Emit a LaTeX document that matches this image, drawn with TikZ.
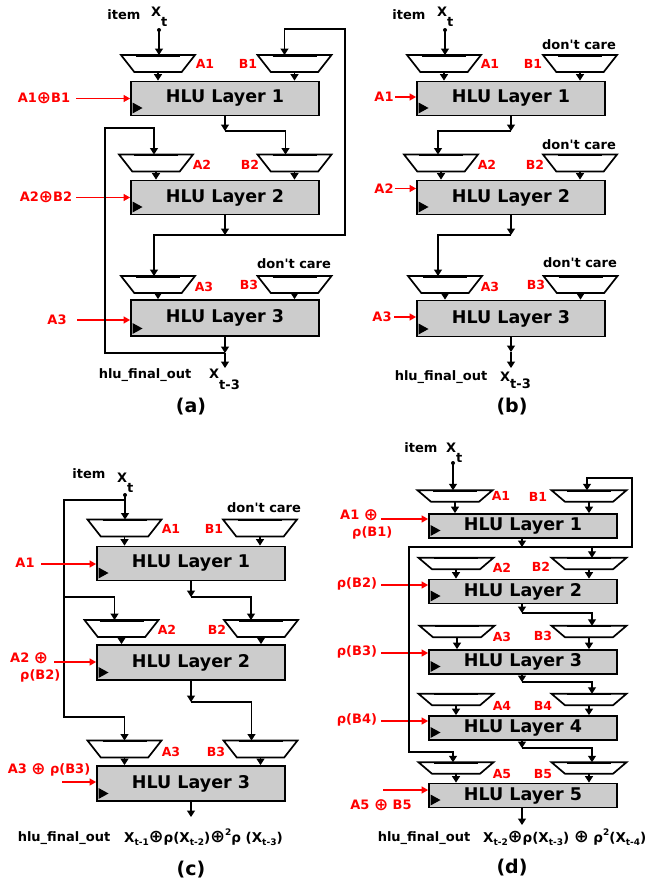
\documentclass[tikz,border=0pt]{standalone}
\usepackage{fontspec}
\setmainfont{DejaVu Sans}
\usepackage{tikz}
\usetikzlibrary{arrows.meta,calc}

% subscripts set below the baseline
\newcommand\lowr[2][10pt]{\raisebox{-#1}{#2}}
\newcommand\ssub[1]{\raisebox{-3pt}{\fontsize{9}{10}\selectfont #1}}
\newcommand\ssup[1]{\raisebox{7pt}{\fontsize{9}{10}\selectfont #1}}
\newcommand\opl{\raisebox{-0.6pt}{\scalebox{1.3}{⊕}}}
\newcommand\dontcare{don\textquotesingle t care}

\begin{document}
\begin{tikzpicture}[x=1pt,y=-1pt,
  hlu/.style={rectangle,draw=black,line width=1.8pt,fill=gray!40,minimum width=188pt,
              minimum height=34pt,inner sep=0pt,font=\fontsize{17.5}{20}\selectfont\bfseries,
              path picture={\fill[black] ([shift={(1.5pt,2pt)}]path picture bounding box.south west)
                 -- ++(0pt,11pt) -- ++(10pt,-5.5pt) -- cycle;}},
  shlu/.style={hlu,minimum height=24pt},
  mux/.style={rectangle,minimum width=74pt,minimum height=17pt,inner sep=0pt,outer sep=0pt},
  smux/.style={mux,minimum width=75pt,minimum height=11.5pt},
  muxline/.style={draw=black,fill=white,line width=1.7pt,line join=miter},
  txt/.style={font=\fontsize{13}{15}\selectfont\bfseries,inner sep=0pt},
  lab/.style={font=\fontsize{13}{17}\selectfont\bfseries,text=red,inner sep=0pt},
  mlab/.style={lab,font=\fontsize{12.5}{15}\selectfont\bfseries},
  figcap/.style={font=\fontsize{19}{22}\selectfont\bfseries,inner sep=0pt},
  arr/.style={-{Triangle[length=6.5pt,width=8pt]},line width=1.4pt},
  redarr/.style={-{Triangle[length=6.5pt,width=7pt]},red,line width=1.3pt},
  wire/.style={line width=1.4pt}
]
\useasboundingbox (0,0) rectangle (662,886);

% ---------------- (a) ----------------
\node[txt] (itemA) at (124,15) {item};
\node[txt,anchor=base west] (xtA) at (151,16.5) {X\lowr{t}};
\coordinate (dotA) at (159,30);
\node[mux] (mA1a) at (158,63.5) {};
\node[mux] (mB1a) at (294.5,63.5) {};
\node[mlab] (a1a) at (205,64) {A1};
\node[mlab] (b1a) at (248,64) {B1};
\node[hlu] (L1a) at (225,98.5) {HLU Layer 1};
\node[lab] (rA1a) at (44,98) {A1\opl B1};
\node[mux] (mA2a) at (156,163) {};
\node[mux] (mB2a) at (294.5,163) {};
\node[mlab] (a2a) at (202,165) {A2};
\node[mlab] (b2a) at (250,165) {B2};
\node[hlu] (L2a) at (225,197.5) {HLU Layer 2};
\node[lab] (rA2a) at (46,197) {A2\opl B2};
\node[txt] (dcA) at (294,264) {\dontcare};
\node[mux] (mA3a) at (158,284.5) {};
\node[mux] (mB3a) at (294.5,284.5) {};
\node[mlab] (a3a) at (204,287) {A3};
\node[mlab] (b3a) at (249,285) {B3};
\node[hlu,minimum height=36pt] (L3a) at (225,318) {HLU Layer 3};
\node[lab] (rA3a) at (57,320) {A3};
\node[txt] (hfoA) at (145,375) {hlu\_final\_out};
\node[txt,anchor=base west] (xoA) at (209,378) {X\lowr[11pt]{t-3}};
\node[figcap] (capA) at (191,407) {(a)};

\coordinate (sA1a) at (76,98.5);
\coordinate (sA2a) at (76,197.5);
\coordinate (sA3a) at (77,320);
\coordinate (jA1) at (225,131);
\coordinate (jA2) at (225,235);
\coordinate (jA3) at (225,353);
\coordinate (outA) at (225,368);
\coordinate (rtA) at (345,29);
\coordinate (lfA) at (105,128);

\fill (dotA) circle (2pt);
\draw[arr] (dotA) -- (dotA |- mA1a.north);
\draw[redarr] (sA1a) -- (sA1a -| L1a.west);
\draw[redarr] (sA2a) -- (sA2a -| L2a.west);
\draw[redarr] (sA3a) -- (sA3a -| L3a.west);
\draw[arr] (L1a.south) -- (jA1);
\draw[arr] (jA1) -| ($(mB2a.north)+(-9,0)$);
\draw[arr] (L2a.south) -- (jA2);
\draw[arr] (jA2) -| ($(mA3a.north)+(-4,0)$);
\draw[arr] (jA2) -| (rtA) -| ($(mB1a.north)+(-10,0)$);
\draw[arr] (L3a.south) -- (jA3);
\draw[arr] (jA3) -- (outA);
\draw[arr] (jA3) -| (lfA) -| ($(mA2a.north)+(-2,0)$);

% ---------------- (b) ----------------
\node[txt] (itemB) at (409,15) {item};
\node[txt,anchor=base west] (xtB) at (437,16.5) {X\lowr{t}};
\coordinate (dotB) at (445,30);
\node[txt] (dcB1) at (579,45) {\dontcare};
\node[mux] (mA1b) at (444,63.5) {};
\node[mux] (mB1b) at (580,63.5) {};
\node[mlab] (a1b) at (490,64) {A1};
\node[mlab] (b1b) at (533,64) {B1};
\node[hlu] (L1b) at (511,98.5) {HLU Layer 1};
\node[lab] (rA1b) at (384,97) {A1};
\node[txt] (dcB2) at (579,145) {\dontcare};
\node[mux] (mA2b) at (441,163) {};
\node[mux] (mB2b) at (580,163) {};
\node[mlab] (a2b) at (487,165) {A2};
\node[mlab] (b2b) at (535,165) {B2};
\node[hlu] (L2b) at (511,197.5) {HLU Layer 2};
\node[lab] (rA2b) at (384,188.5) {A2};
\node[txt] (dcB3) at (580,263) {\dontcare};
\node[mux] (mA3b) at (445,284.5) {};
\node[mux] (mB3b) at (580.5,284.5) {};
\node[mlab] (a3b) at (490,287) {A3};
\node[mlab] (b3b) at (536,285) {B3};
\node[hlu,minimum height=36pt] (L3b) at (511,318.5) {HLU Layer 3};
\node[lab] (rA3b) at (382,317) {A3};
\node[txt] (hfoB) at (441,377) {hlu\_final\_out};
\node[txt,anchor=base west] (xoB) at (500,381) {X\lowr[7pt]{t-3}};
\node[figcap] (capB) at (512,407) {(b)};

\coordinate (sA1b) at (395,97);
\coordinate (sA2b) at (395,188.5);
\coordinate (sA3b) at (394,317);
\coordinate (jB1) at (511,131);
\coordinate (jB2) at (511,235);
\coordinate (jB3) at (511,352);
\coordinate (outB) at (511,368);

\fill (dotB) circle (2pt);
\draw[arr] (dotB) -- (dotB |- mA1b.north);
\draw[redarr] (sA1b) -- (sA1b -| L1b.west);
\draw[redarr] (sA2b) -- (sA2b -| L2b.west);
\draw[redarr] (sA3b) -- (sA3b -| L3b.west);
\draw[arr] (L1b.south) -- (jB1);
\draw[arr] (jB1) -| ($(mA2b.north)+(-3,0)$);
\draw[arr] (L2b.south) -- (jB2);
\draw[arr] (jB2) -| ($(mA3b.north)+(-7,0)$);
\draw[arr] (L3b.south) -- (jB3);
\draw[arr] (jB3) -- (outB);

% ---------------- (c) ----------------
\node[txt] (itemC) at (89,474) {item};
\node[txt,anchor=base west] (xtC) at (117,482) {X\lowr{t}};
\coordinate (dotC) at (125,495);
\node[txt] (dcC) at (264,508) {\dontcare};
\node[mux] (mA1c) at (124.5,528) {};
\node[mux] (mB1c) at (260,528) {};
\node[mlab] (a1c) at (171,529) {A1};
\node[mlab] (b1c) at (214,529) {B1};
\node[hlu] (L1c) at (191,563.5) {HLU Layer 1};
\node[lab] (rA1c) at (25,563) {A1};
\node[mux] (mA2c) at (121.5,628.5) {};
\node[mux] (mB2c) at (261,628.5) {};
\node[mlab] (a2c) at (167,630) {A2};
\node[mlab] (b2c) at (217,630) {B2};
\node[hlu,minimum height=35pt] (L2c) at (191,662.5) {HLU Layer 2};
\node[lab,align=left,anchor=north west] (rA2c) at (10,652) {A2 \opl\\\hspace*{10pt}ρ(B2)};
\node[mux] (mA3c) at (124.5,749) {};
\node[mux] (mB3c) at (260.5,749) {};
\node[mlab] (a3c) at (171,752) {A3};
\node[mlab] (b3c) at (216,752) {B3};
\node[hlu,minimum height=35pt] (L3c) at (191,783.5) {HLU Layer 3};
\node[lab] (rA3c) at (49,770) {A3 \opl\ ρ(B3)};
\node[txt] (hfoC) at (64,838) {hlu\_final\_out};
\node[txt,font=\fontsize{13.5}{15}\selectfont\bfseries,anchor=base west] (exC) at (124,842)
  {X\ssub{t-1}\opl ρ(X\ssub{t-2})\opl\ssup{2}ρ (X\ssub{t-3})};
\node[figcap] (capC) at (191,870) {(c)};

\coordinate (jC0) at (125,500);
\coordinate (sA1c) at (41,564);
\coordinate (sA2c) at (54,662);
\coordinate (sA3c) at (62,782);
\coordinate (jC1) at (191,597);
\coordinate (jC2) at (191,702);
\coordinate (outC) at (191,817);
\coordinate (lC1) at (64,597);
\coordinate (lC2) at (64,717);

\fill (dotC) circle (2pt);
\draw[arr] (dotC) -- (dotC |- mA1c.north);
\draw[wire] (jC0) -| (lC1);
\draw[arr] (lC1) -| ($(mA2c.north)+(-7,0)$);
\draw[arr] (lC1) -- (lC2) -| (mA3c.north);
\draw[redarr] (sA1c) -- (sA1c -| L1c.west);
\draw[redarr] (sA2c) -- (sA2c -| L2c.west);
\draw[redarr] (sA3c) -- (sA3c -| L3c.west);
\draw[arr] (L1c.south) -- (jC1);
\draw[arr] (jC1) -| ($(mB2c.north)+(-10,0)$);
\draw[arr] (L2c.south) -- (jC2);
\draw[arr] (jC2) -| ($(mB3c.north)+(-9,0)$);
\draw[arr] (L3c.south) -- (outC);

% ---------------- (d) ----------------
\node[txt] (itemD) at (421,448) {item};
\node[txt,anchor=base west] (xtD) at (446,452) {X\lowr{t}};
\coordinate (dotD) at (453,463);
\node[smux] (mA1d) at (455,496) {};
\node[smux] (mB1d) at (589,496) {};
\node[mlab] (a1d) at (501,496) {A1};
\node[mlab] (b1d) at (538,497) {B1};
\node[shlu] (L1d) at (523,526) {HLU Layer 1};
\node[lab,align=left,anchor=north west] (rA1d) at (340,509) {A1 \opl\\\hspace*{12pt}ρ(B1)};
\node[smux] (mA2d) at (456,563.5) {};
\node[smux] (mB2d) at (589,563.5) {};
\node[mlab] (a2d) at (502,568) {A2};
\node[mlab] (b2d) at (541,567) {B2};
\node[shlu] (L2d) at (523,591.5) {HLU Layer 2};
\node[lab] (rB2d) at (357,584) {ρ(B2)};
\node[smux] (mA3d) at (457,631.5) {};
\node[smux] (mB3d) at (589,631.5) {};
\node[mlab] (a3d) at (502,637) {A3};
\node[mlab] (b3d) at (543,636) {B3};
\node[shlu] (L3d) at (523,662) {HLU Layer 3};
\node[lab] (rB3d) at (357,652) {ρ(B3)};
\node[smux] (mA4d) at (456,699.5) {};
\node[smux] (mB4d) at (589,699.5) {};
\node[mlab] (a4d) at (502,706) {A4};
\node[mlab] (b4d) at (543,706) {B4};
\node[shlu] (L4d) at (523,728) {HLU Layer 4};
\node[lab] (rB4d) at (357,720) {ρ(B4)};
\node[smux] (mA5d) at (456,768) {};
\node[smux] (mB5d) at (589,768) {};
\node[mlab] (a5d) at (502,774) {A5};
\node[mlab] (b5d) at (543,774) {B5};
\node[shlu] (L5d) at (523,795.5) {HLU Layer 5};
\node[lab] (rA5d) at (381,805) {A5 \opl\ B5};
\node[txt] (hfoD) at (424,838) {hlu\_final\_out};
\node[txt,font=\fontsize{13.5}{15}\selectfont\bfseries,anchor=base west] (exD) at (483,842)
  {X\ssub{t-2}\opl ρ(X\ssub{t-3}) \opl\ ρ\ssup{2}(X\ssub{t-4})};
\node[figcap] (capD) at (512,868) {(d)};

\coordinate (sA1d) at (381,519);
\coordinate (sB2d) at (381,585);
\coordinate (sB3d) at (381,653);
\coordinate (sB4d) at (381,721);
\coordinate (sA5d) at (383,790);
\coordinate (jD1) at (522,547);
\coordinate (jD2) at (522,613);
\coordinate (jD3) at (522,682);
\coordinate (jD4) at (522,748);
\coordinate (outD) at (522,825);
\coordinate (rtD) at (632,478);
\coordinate (lD) at (409,752);

\fill (dotD) circle (2pt);
\draw[arr] (dotD) -- (dotD |- mA1d.north);
\draw[redarr] (sA1d) -- (sA1d -| L1d.west);
\draw[redarr] (sB2d) -- (sB2d -| L2d.west);
\draw[redarr] (sB3d) -- (sB3d -| L3d.west);
\draw[redarr] (sB4d) -- (sB4d -| L4d.west);
\draw[redarr] (sA5d) -- (sA5d -| L5d.west);
\draw[arr] (L1d.south -| jD1) -- (jD1);
\draw[arr] (jD1) -| (rtD) -| ($(mB1d.north)+(-2,0)$);
\draw[arr] (jD1) -| ($(mB2d.north)+(3,0)$);
\draw[arr] (jD1) -| (lD) -| ($(mA5d.north)+(-3,0)$);
\draw[arr] (L2d.south -| jD2) -- (jD2);
\draw[arr] (jD2) -| ($(mB3d.north)+(3,0)$);
\draw[arr] (L3d.south -| jD3) -- (jD3);
\draw[arr] (jD3) -| ($(mB4d.north)+(3,0)$);
\draw[arr] (L4d.south -| jD4) -- (jD4);
\draw[arr] (jD4) -| ($(mB5d.north)+(3,0)$);
\draw[arr] (L5d.south -| outD) -- (outD);

% mux bodies: wide top, narrow bottom, heavier middle on top
\foreach \m in {mA1a,mB1a,mA2a,mB2a,mA3a,mB3a,mA1b,mB1b,mA2b,mB2b,mA3b,mB3b,
                mA1c,mB1c,mA2c,mB2c,mA3c,mB3c,mA1d,mB1d,mA2d,mB2d,mA3d,mB3d,
                mA4d,mB4d,mA5d,mB5d}{
  \filldraw[muxline] (\m.north west) -- (\m.north east)
    -- ($(\m.south east)!0.18!(\m.south west)$) -- ($(\m.south west)!0.18!(\m.south east)$) -- cycle;
  \draw[line width=1pt] ($(\m.north)+(-22,1.2)$) -- ($(\m.north)+(22,1.2)$);
}

% mux outputs into the layers
\foreach \m/\l in {mA1a/L1a,mB1a/L1a,mA2a/L2a,mB2a/L2a,mA3a/L3a,mB3a/L3a,
                   mA1b/L1b,mB1b/L1b,mA2b/L2b,mB2b/L2b,mA3b/L3b,mB3b/L3b,
                   mA1c/L1c,mB1c/L1c,mA2c/L2c,mB2c/L2c,mA3c/L3c,mB3c/L3c,
                   mA1d/L1d,mB1d/L1d,mA2d/L2d,mB2d/L2d,mA3d/L3d,mB3d/L3d,
                   mA4d/L4d,mB4d/L4d,mA5d/L5d,mB5d/L5d}
  \draw[arr] (\m.south) -- (\m.south |- \l.north);
\end{tikzpicture}
\end{document}
